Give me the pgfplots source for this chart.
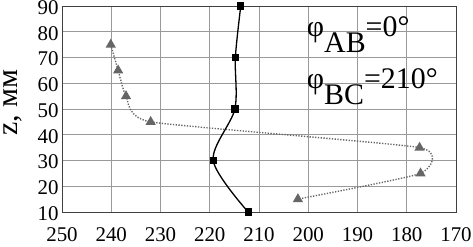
\documentclass[border=0pt]{standalone}
\usepackage{pgfplots}
\pgfplotsset{compat=1.18}
\usepackage{fontspec}
\setmainfont{Liberation Serif}
\begin{document}
\begin{tikzpicture}
\begin{axis}[
  scale only axis,
  width=394bp, height=206bp,
  x dir=reverse,
  xmin=170, xmax=250, ymin=10, ymax=90,
  xtick={170,180,...,250}, ytick={10,20,...,90},
  grid=major,
  major grid style={black!40, line width=0.6bp},
  axis line style={black!75, line width=0.9bp},
  major tick length=0pt,
  /pgf/number format/assume math mode=true,
  ticklabel style={font=\fontsize{21}{24}\selectfont},
  xticklabel style={yshift=-12bp},
  yticklabel style={yshift=-1.5bp},
  ylabel={z, мм},
  ylabel style={font=\fontsize{30}{32}\selectfont, at={(axis description cs:-0.114,0.53)}, anchor=base, rotate=0},
  clip=false,
]
\addplot[black, line width=1.3bp, smooth, mark=square*, mark size=3bp, mark options={solid}]
  coordinates {(212.2,10) (219.3,30) (214.9,50) (214.8,70) (213.7,90)};
\addplot[black!60, line width=1.4bp, dash pattern=on 1.3bp off 1.5bp, smooth, tension=0.3, mark=triangle*, mark size=4.5bp, mark options={solid, fill=black!60, draw=black!60}]
  coordinates {(240.1,75) (238.6,65) (237,55) (232,45) (177.4,35) (177.2,25) (202.1,15)};
\node[anchor=base west, font=\fontsize{30}{32}\selectfont, inner sep=0pt] at (axis cs:200.3,78) {φ\raisebox{-16bp}{AB}=0°};
\node[anchor=base west, font=\fontsize{30}{32}\selectfont, inner sep=0pt] at (axis cs:200.3,57.8) {φ\raisebox{-16bp}{BC}=210°};
\end{axis}
\pgfresetboundingbox
\path[use as bounding box] ([xshift=-62bp,yshift=-35bp]current axis.south west) rectangle ([xshift=17bp,yshift=6bp]current axis.north east);
\end{tikzpicture}
\end{document}
